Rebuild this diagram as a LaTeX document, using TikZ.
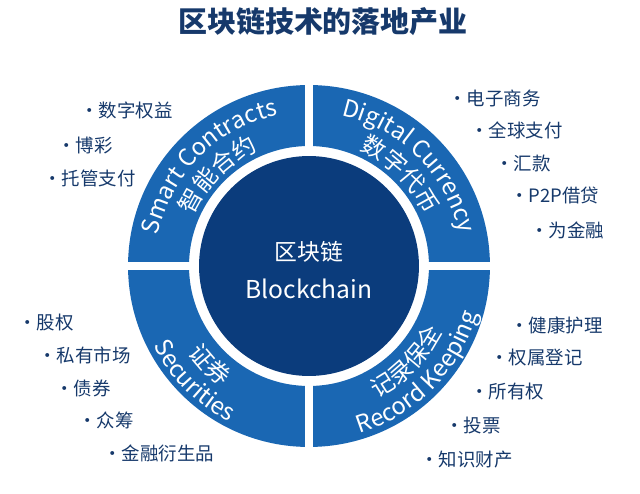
\documentclass[tikz,border=0pt]{standalone}
\usepackage{fontspec}
\setmainfont{Noto Sans CJK SC}
\usetikzlibrary{positioning,decorations.text}
\definecolor{ringblue}{HTML}{1A67B3}
\definecolor{coreblue}{HTML}{0B3C7C}
\definecolor{navy}{HTML}{16396B}
\newcommand{\ringfont}{\fontsize{13.5}{14}\selectfont}
\newcommand{\ringcjk}{\fontsize{13.5}{14}\selectfont}
\tikzset{
  item/.style={anchor=west, text=navy, font=\fontsize{10.5}{12}\selectfont, inner sep=0pt},
  ringtext/.style={decorate, decoration={text along path, text align=center, text color=white}},
}
\begin{document}
\begin{tikzpicture}[x=0.02cm,y=0.02cm]
\useasboundingbox (-309,-228) rectangle (331,266);

% title
\node[text=navy, font=\fontsize{16.5}{18}\bfseries] (title) at (14,244) {区块链技术的落地产业};

% ring with gaps
\fill[ringblue, even odd rule] (0,0) circle (3.62cm) (0,0) circle (2.4cm);
\draw[white, line width=0.16cm] (-190,0) -- (190,0) (0,-190) -- (0,190);
\fill[coreblue] (0,0) circle (2.2cm);

% core
\node[text=white, font=\fontsize{13}{15}\selectfont] (core) at (0,14) {区块链};
\node[text=white, font=\fontsize{14}{16}\selectfont, below=2pt of core] (coreen) {Blockchain};

% quadrant labels
\path[ringtext, decoration={text={|\ringfont|Smart Contracts}}]
  (178:3.08cm) arc[start angle=178, end angle=92, radius=3.08cm];
\path[ringtext, decoration={text={|\ringcjk|智能合约}}]
  (165:2.52cm) arc[start angle=165, end angle=105, radius=2.52cm];
\path[ringtext, decoration={text={|\ringfont|Digital Currency}}]
  (88:3.08cm) arc[start angle=88, end angle=2, radius=3.08cm];
\path[ringtext, decoration={text={|\ringcjk|数字代币}}]
  (75:2.52cm) arc[start angle=75, end angle=15, radius=2.52cm];
\path[ringtext, decoration={text={|\ringfont|Securities}}]
  (185:3.5cm) arc[start angle=185, end angle=265, radius=3.5cm];
\path[ringtext, decoration={text={|\ringcjk|证券}}]
  (195:2.98cm) arc[start angle=195, end angle=255, radius=2.98cm];
\path[ringtext, decoration={text={|\ringfont|Record Keeping}}]
  (273:3.5cm) arc[start angle=273, end angle=358, radius=3.5cm];
\path[ringtext, decoration={text={|\ringcjk|记录保全}}]
  (283:2.98cm) arc[start angle=283, end angle=348, radius=2.98cm];

% industries
\node[item] (a1) at (-229,156) {·数字权益};
\node[item] (a2) at (-252,121) {·博彩};
\node[item] (a3) at (-266,88) {·托管支付};
\node[item] (b1) at (139,168) {·电子商务};
\node[item] (b2) at (161,136) {·全球支付};
\node[item] (b3) at (186,103) {·汇款};
\node[item] (b4) at (201,71) {·P2P借贷};
\node[item] (b5) at (221,36) {·为金融};
\node[item] (c1) at (-291,-57) {·股权};
\node[item] (c2) at (-271,-89) {·私有市场};
\node[item] (c3) at (-254,-122) {·债券};
\node[item] (c4) at (-231,-154) {·众筹};
\node[item] (c5) at (-206,-187) {·金融衍生品};
\node[item] (d1) at (201,-59) {·健康护理};
\node[item] (d2) at (181,-92) {·权属登记};
\node[item] (d3) at (161,-126) {·所有权};
\node[item] (d4) at (136,-160) {·投票};
\node[item] (d5) at (111,-194) {·知识财产};
\end{tikzpicture}
\end{document}
